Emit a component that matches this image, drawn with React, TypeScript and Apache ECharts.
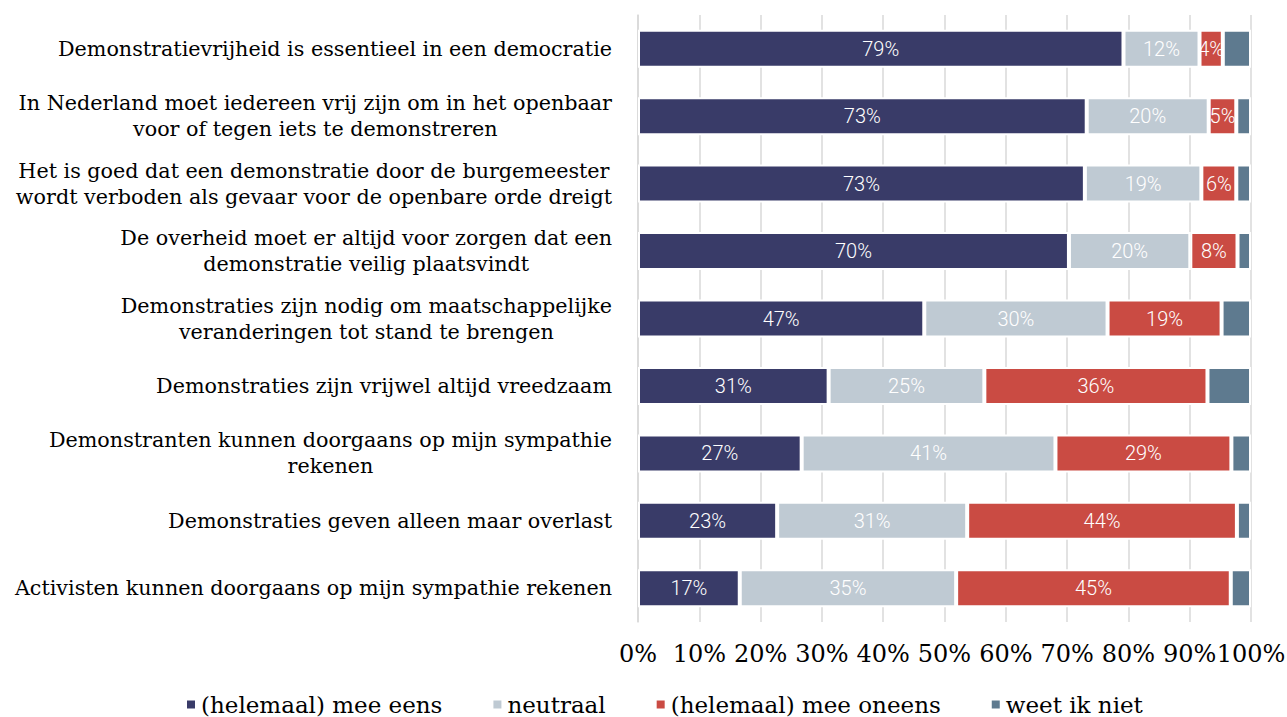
import React, { useEffect, useRef } from "react";
import * as echarts from "echarts";

const categories: string[] = [
  "Demonstratievrijheid is essentieel in een democratie",
  "In Nederland moet iedereen vrij zijn om in het openbaar\nvoor of tegen iets te demonstreren",
  "Het is goed dat een demonstratie door de burgemeester\nwordt verboden als gevaar voor de openbare orde dreigt",
  "De overheid moet er altijd voor zorgen dat een\ndemonstratie veilig plaatsvindt",
  "Demonstraties zijn nodig om maatschappelijke\nveranderingen tot stand te brengen",
  "Demonstraties zijn vrijwel altijd vreedzaam",
  "Demonstranten kunnen doorgaans op mijn sympathie\nrekenen",
  "Demonstraties geven alleen maar overlast",
  "Activisten kunnen doorgaans op mijn sympathie rekenen",
];

const seriesNames: string[] = [
  "(helemaal) mee eens",
  "neutraal",
  "(helemaal) mee oneens",
  "weet ik niet",
];

const meeEens: number[] = [79.2, 73.2, 72.9, 70.3, 46.7, 31.1, 26.7, 22.7, 16.6];
const neutraal: number[] = [12.4, 19.9, 19.0, 19.8, 29.9, 25.4, 41.4, 31.0, 35.3];
const meeOneens: number[] = [3.8, 4.5, 5.7, 7.7, 18.6, 36.4, 28.7, 44.0, 44.8];
const weetNiet: number[] = [4.6, 2.4, 2.4, 2.2, 4.8, 7.1, 3.2, 2.3, 3.3];

const colors: string[] = ["#393b68", "#bfcad3", "#ca4b43", "#5e7a8f"];
const xTicks: number[] = [0, 10, 20, 30, 40, 50, 60, 70, 80, 90, 100];

const SERIF = "'DejaVu Serif', serif";

export default function App() {
  const ref = useRef<HTMLDivElement>(null);
  useEffect(() => {
    if (!ref.current) return;
    const chart = echarts.init(ref.current, null, { renderer: "svg" });
    const dataSets = [meeEens, neutraal, meeOneens, weetNiet];
    const option: any = {
      animation: false,
      backgroundColor: "#ffffff",
      color: colors,
      grid: {
        left: 638,
        right: 36,
        top: 15,
        bottom: 95,
        outerBoundsMode: "none",
      },
      legend: {
        bottom: -4,
        left: 180,
        itemWidth: 10,
        itemHeight: 10,
        itemGap: 49,
        icon: "rect",
        textStyle: { fontFamily: SERIF, fontSize: 23, color: "#000" },
        data: seriesNames,
      },
      xAxis: {
        type: "value",
        min: xTicks[0],
        max: xTicks[xTicks.length - 1],
        interval: 10,
        axisLine: { show: false },
        axisTick: { show: false },
        splitLine: { show: true, lineStyle: { color: "#d9d9d9", width: 1.5 } },
        axisLabel: {
          margin: 20,
          fontFamily: SERIF,
          fontSize: 24,
          color: "#000",
          formatter: (v: number) => v + "%",
        },
      },
      yAxis: {
        type: "category",
        inverse: true,
        data: categories,
        axisLine: { show: true, lineStyle: { color: "#d9d9d9", width: 1.5 } },
        axisTick: { show: false },
        axisLabel: {
          margin: 26,
          color: "#000",
          fontFamily: SERIF,
          fontSize: 20.7,
          lineHeight: 26,
          formatter: (v: string) =>
            v
              .split("\n")
              .map((l) => "{c|" + l + "}")
              .join("\n"),
          rich: {
            c: {
              align: "center",
              fontFamily: SERIF,
              fontSize: 20.7,
              lineHeight: 26,
              color: "#000",
            },
          },
        },
      },
      series: seriesNames.map((name, i) => ({
        name,
        type: "bar",
        stack: "total",
        barWidth: 38,
        data: dataSets[i],
        itemStyle: { color: colors[i], borderColor: "#ffffff", borderWidth: 2 },
        label: {
          show: i < 3,
          position: "inside",
          color: "#ffffff",
          fontFamily: "Roboto, sans-serif",
          fontWeight: 300,
          fontSize: 20,
          formatter: (p: any) => Math.round(p.value) + "%",
        },
      })),
    };
    chart.setOption(option);
    return () => chart.dispose();
  }, []);
  return (
    <div
      ref={ref}
      style={{ position: "fixed", left: 0, top: 0, width: 1287, height: 717 }}
    />
  );
}
